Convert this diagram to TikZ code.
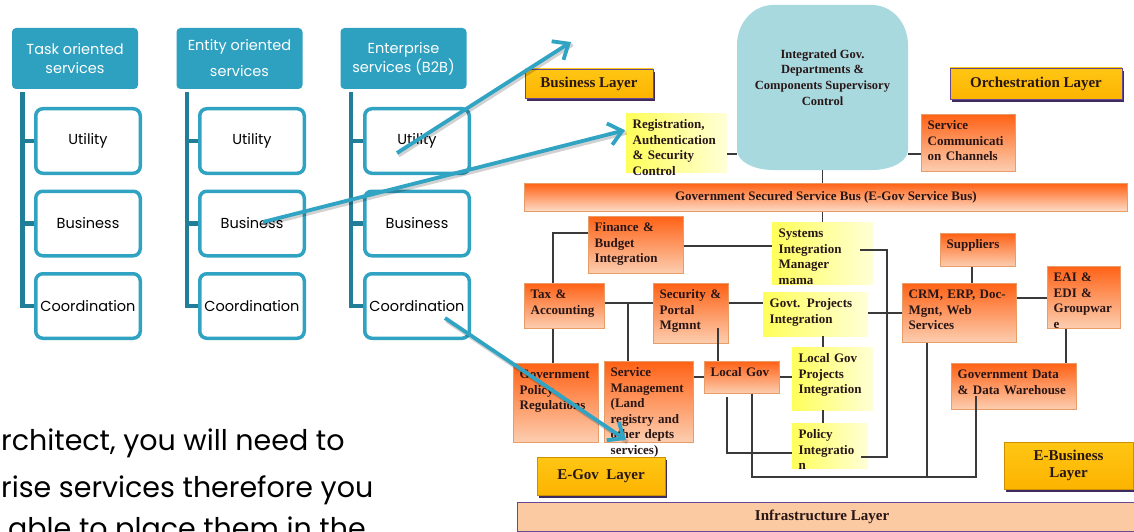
\documentclass[tikz,border=0pt]{standalone}
\usepackage{fontspec}
\setmainfont{Liberation Serif}
\newfontfamily\gothicfont{Poppins}
\usetikzlibrary{arrows.meta,shadows}

\definecolor{tealhead}{RGB}{46,160,192}
\definecolor{tealline}{RGB}{33,126,152}
\definecolor{tealedge}{RGB}{49,163,194}
\definecolor{arrowteal}{RGB}{49,164,196}
\definecolor{orTop}{RGB}{255,98,22}
\definecolor{orBot}{RGB}{252,206,176}
\definecolor{orEdge}{RGB}{232,156,104}
\definecolor{ylTop}{RGB}{255,255,90}
\definecolor{ylBot}{RGB}{255,255,215}
\definecolor{gold}{RGB}{252,180,0}
\definecolor{goldLt}{RGB}{255,198,20}
\definecolor{layerEdge}{RGB}{104,72,146}
\definecolor{layerShadow}{RGB}{62,44,96}
\definecolor{peach}{RGB}{251,201,162}
\definecolor{cylfill}{RGB}{168,217,223}
\definecolor{ink}{RGB}{40,22,22}
\definecolor{wirecol}{RGB}{58,58,58}

\begin{document}
\begin{tikzpicture}[x=1pt,y=-1pt,
  head/.style={fill=tealhead, rounded corners=4pt, minimum width=126pt,
    minimum height=61pt, text=white, align=center, inner sep=0pt,
    font=\gothicfont\fontsize{14.5}{19}\selectfont},
  leaf/.style={draw=tealedge, line width=3.5pt, fill=white, rounded corners=7pt,
    minimum width=104.5pt, minimum height=64.5pt, inner sep=0pt,
    font=\gothicfont\fontsize{14.5}{17}\selectfont},
  brk/.style={draw=tealline, line width=4.5pt},
  prose/.style={anchor=base west, inner sep=0pt, font=\gothicfont\fontsize{28.5}{34}\selectfont},
  tarrow/.style={draw=arrowteal, line width=3.8pt, -{Straight Barb[length=13pt,width=22pt]}},
  tshadow/.style={draw=black, opacity=0.18, line width=4pt,
    transform canvas={shift={(1.5pt,-2.5pt)}}},
  obox/.style={anchor=north west, draw=orEdge, line width=0.6pt,
    top color=orTop, bottom color=orBot, inner sep=0pt},
  ybox/.style={anchor=north west, left color=ylTop, right color=ylBot, inner sep=0pt},
  bt/.style={anchor=north west, text width=150pt, align=left, text height=9.5pt,
    inner xsep=6.5pt, inner ysep=6pt, text=ink,
    font=\fontsize{13}{15.5}\selectfont\bfseries},
  layer/.style={top color=goldLt, bottom color=gold, draw=layerEdge, line width=0.9pt,
    drop shadow={shadow xshift=1.5pt, shadow yshift=-3pt, fill=layerShadow, opacity=1},
    align=center, text=ink, inner sep=0pt, font=\fontsize{15}{17}\selectfont\bfseries},
  ctext/.style={align=center, text=ink, font=\fontsize{12.5}{15.8}\selectfont\bfseries},
  wire/.style={draw=wirecol, line width=1.1pt}
]
\useasboundingbox (0,0) rectangle (1134,532);

% ---------------- service taxonomy ----------------
\node[head] (h1) at (75,58.5) {Task oriented\\services};
\node[head] (h2) at (239.5,58.5) {Entity oriented\\[7pt]services};
\node[head] (h3) at (403.5,58.5) {Enterprise\\services (B2B)};

\node[leaf] (tu) at (88,141) {Utility};
\node[leaf] (tb) at (88,223.5) {Business};
\node[leaf] (tc) at (88,306) {Coordination};
\node[leaf] (nu) at (252,141) {Utility};
\node[leaf] (nb) at (252,223.5) {Business};
\node[leaf] (nc) at (252,306) {Coordination};
\node[leaf] (eu) at (417,141) {Utility};
\node[leaf] (eb) at (417,223.5) {Business};
\node[leaf] (ec) at (417,306) {Coordination};

\foreach \h/\a/\b/\c in {h1/tu/tb/tc, h2/nu/nb/nc, h3/eu/eb/ec}{
  \draw[brk] ([shift={(10.5,3)}]\h.south west) |- (\a.west);
  \draw[brk] ([shift={(10.5,3)}]\h.south west) |- (\b.west);
  \draw[brk] ([shift={(10.5,3)}]\h.south west) |- (\c.west);
}

\node[prose] (p1) at (1,450) {rchitect, you will need to};
\node[prose] (p2) at (1,497) {rise services therefore you};
\node[prose] (p3) at (8,538) {able to place them in the};

% ---------------- e-government architecture ----------------
% supervisory store
\fill[cylfill] (737,150) -- (737,45) .. controls (737,23) and (753,5) .. (773,5)
  -- (872,5) .. controls (892,5) and (908,23) .. (908,45) -- (908,150)
  .. controls (908,161) and (892,170) .. (872,170) -- (773,170)
  .. controls (753,170) and (737,161) .. (737,150) -- cycle;
\node[minimum width=171pt, minimum height=165pt, inner sep=0pt,
  label={[ctext, yshift=10pt]center:{Integrated Gov.\\Departments \&\\Components Supervisory\\Control}}]
  (cyl) at (822.5,87.5) {};

% layers
\node[layer, minimum width=128pt, minimum height=29pt] (bl) at (589,83.5) {Business Layer};
\node[layer, minimum width=172pt, minimum height=31pt] (ol) at (1036,83.5) {Orchestration Layer};
\node[layer, minimum width=128pt, minimum height=38pt, draw=gold!80!black] (el) at (601,476) {E-Gov\ \ Layer};
\node[layer, minimum width=129pt, minimum height=47pt, draw=gold!80!black] (bz) at (1068.5,465.5) {E-Business\\Layer};
\node[minimum width=623pt, minimum height=29pt, fill=peach, draw=layerEdge, line width=1.1pt,
  drop shadow={shadow xshift=0pt, shadow yshift=-2pt, fill=layerShadow, opacity=1},
  text=ink, font=\fontsize{15}{17}\selectfont\bfseries, anchor=north west, inner sep=0pt]
  (inf) at (517,502) {\hspace*{-14pt}Infrastructure Layer};

% service bus
\node[anchor=north west, minimum width=603pt, minimum height=28pt, inner sep=0pt,
  top color=orTop, bottom color=orBot!70!white, draw=orEdge, line width=0.8pt,
  text=ink, font=\fontsize{13}{15}\selectfont\bfseries]
  (bus) at (524,183) {Government Secured Service Bus (E-Gov Service Bus)};

% yellow components
\node[ybox, minimum width=101pt, minimum height=59pt,
  label={[bt]north west:{Registration,\\Authentication\\\& Security\\Control}}] (reg) at (626,113) {};
\node[ybox, minimum width=101pt, minimum height=62pt,
  label={[bt]north west:{Systems\\Integration\\Manager\\mama}}] (sim) at (772,222) {};
\node[ybox, minimum width=105pt, minimum height=44pt,
  label={[bt]north west:{Govt. Projects\\Integration}}] (gpi) at (763,292) {};
\node[ybox, minimum width=81pt, minimum height=63pt,
  label={[bt]north west:{Local Gov\\Projects\\Integration}}] (lgpi) at (792,347) {};
\node[ybox, minimum width=76pt, minimum height=45pt,
  label={[bt]north west:{Policy\\Integratio\\n}}] (poli) at (792,423) {};

% orange components
\node[obox, minimum width=94pt, minimum height=57pt,
  label={[bt]north west:{Service\\Communicati\\on Channels}}] (scc) at (921,114) {};
\node[obox, minimum width=95pt, minimum height=57pt,
  label={[bt]north west:{Finance \&\\Budget\\Integration}}] (fin) at (588,216) {};
\node[obox, minimum width=80pt, minimum height=45pt,
  label={[bt]north west:{Tax \&\\Accounting}}] (tax) at (524,283) {};
\node[obox, minimum width=75pt, minimum height=60pt,
  label={[bt]north west:{Security \&\\Portal\\Mgmnt}}] (sec) at (653,283) {};
\node[obox, minimum width=85pt, minimum height=79pt,
  label={[bt]north west:{Government\\Policy\\Regulations}}] (gpr) at (513,363) {};
\node[obox, minimum width=89pt, minimum height=81pt,
  label={[bt]north west:{Service\\Management\\(Land\\registry and\\other depts\\services)}}] (svc) at (604,361) {};
\node[obox, minimum width=75pt, minimum height=32pt,
  label={[bt]north west:{Local Gov}}] (lg) at (704,361) {};
\node[obox, minimum width=75pt, minimum height=33pt,
  label={[bt]north west:{Suppliers}}] (sup) at (940,233) {};
\node[obox, minimum width=114pt, minimum height=59pt,
  label={[bt]north west:{CRM, ERP, Doc-\\Mgnt, Web\\Services}}] (crm) at (902,283) {};
\node[obox, minimum width=73pt, minimum height=62pt,
  label={[bt]north west:{EAI \&\\EDI \&\\Groupwar\\e}}] (eai) at (1047,266) {};
\node[obox, minimum width=125pt, minimum height=46pt,
  label={[bt]north west:{Government Data\\\& Data Warehouse}}] (gdw) at (951,363) {};

% tap points where links leave a component
\coordinate (j1) at (628,303);
\coordinate (sectap) at (718,328);
\coordinate (simtap) at (860,250);
\coordinate (politap) at (861,457);
\coordinate (lgtap) at (727,397);
\coordinate (gdwtap) at (976,396);
\coordinate (trunk) at (927,477);

% links
\draw[wire] (reg.east |- 0,154) -- (cyl.west |- 0,154);
\draw[wire] (cyl.east |- 0,154) -- (scc.west |- 0,154);
\draw[wire] (cyl.south) -- (cyl.south |- bus.north);
\draw[wire] (sim.north |- bus.south) -- (sim.north);
\draw[wire] (fin.east |- 0,246) -- (sim.west |- 0,246);
\draw[wire] (fin.west |- 0,233) -| (tax.north -| 553,0);
\draw[wire] (tax.east |- 0,303) -- (sec.west |- 0,303);
\draw[wire] (j1) -- (svc.north -| j1);
\draw[wire] (sec.east |- 0,303) -- (gpi.west |- 0,303);
\draw[wire] (gpi.east |- 0,313) -- (crm.west |- 0,313);
\draw[wire] (tax.south -| 553,0) -- (gpr.north -| 553,0);
\draw[wire] (svc.east |- 0,377) -- (lg.west |- 0,377);
\draw[wire] (sectap) -- (lg.north -| sectap);
\draw[wire] (lg.east |- 0,377) -- (lgpi.west |- 0,377);
\draw[wire] (gpi.south -| 823,0) -- (lgpi.north -| 823,0);
\draw[wire] (lgpi.south -| 823,0) -- (poli.north -| 823,0);
\draw[wire] (simtap) -| (politap -| 887,0) -- (politap);
\draw[wire] (lgtap) |- (poli.west |- 0,453);
\draw[wire] (lg.south -| 752,0) |- (trunk) -| (gdwtap);
\draw[wire] (crm.south -| trunk) -- (trunk);
\draw[wire] (sup.south -| 972,0) -- (crm.north -| 972,0);
\draw[wire] (crm.east |- 0,298) -- (eai.west |- 0,298);
\draw[wire] (eai.south -| 1066,0) -- (gdw.north -| 1066,0);

% ---------------- mapping arrows ----------------
\coordinate (tipA) at (571,42);
\draw[tshadow] ([shift={(-20,12)}]eu.center) -- (tipA);
\draw[tshadow] ([shift={(11,-1.5)}]nb.center) -- ([shift={(-1,-12.5)}]reg.west);
\draw[tshadow] ([shift={(28,12)}]ec.center) -- ([shift={(22,79)}]svc.north west);
\draw[tarrow] ([shift={(-20,12)}]eu.center) -- (tipA);
\draw[tarrow] ([shift={(11,-1.5)}]nb.center) -- ([shift={(-1,-12.5)}]reg.west);
\draw[tarrow] ([shift={(28,12)}]ec.center) -- ([shift={(22,79)}]svc.north west);
\end{tikzpicture}
\end{document}
